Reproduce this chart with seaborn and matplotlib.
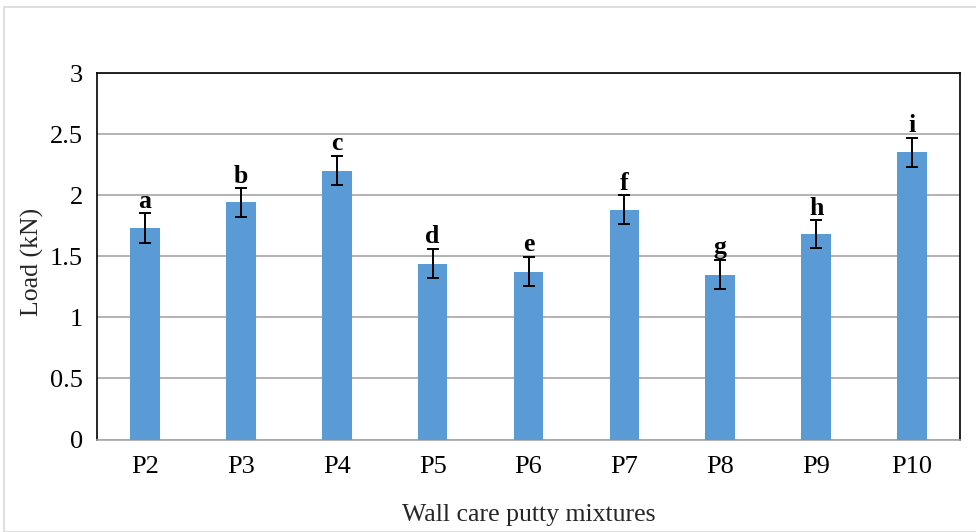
import matplotlib
matplotlib.use("Agg")
import matplotlib.pyplot as plt
import seaborn as sns
import pandas as pd
from matplotlib.patches import Rectangle

categories = ["P2", "P3", "P4", "P5", "P6", "P7", "P8", "P9", "P10"]
loads = [1.73, 1.94, 2.20, 1.44, 1.375, 1.88, 1.35, 1.68, 2.35]
errors = [0.12, 0.115, 0.12, 0.12, 0.12, 0.12, 0.12, 0.115, 0.12]
letters = ["a", "b", "c", "d", "e", "f", "g", "h", "i"]

df = pd.DataFrame({"Mixture": categories, "Load": loads})

sns.set_style("white")
plt.rcParams["font.family"] = ["Liberation Serif", "DejaVu Serif"]

fig = plt.figure(figsize=(9.76, 5.32), dpi=100)
W, H = 976, 532
ax = fig.add_axes([97 / W, 1 - 439.5 / H, (960 - 97) / W, (439.5 - 73) / H])

sns.barplot(data=df, x="Mixture", y="Load", color="#5B9BD5", width=0.31,
            saturation=1, ax=ax, zorder=3)
for p in ax.patches:
    p.set_edgecolor("none")

xs = range(len(categories))
ax.errorbar(list(xs), loads, yerr=errors, fmt="none", ecolor="black",
            elinewidth=1.4, capsize=4, capthick=1.4, zorder=4)
for x, y, e, t in zip(xs, loads, errors, letters):
    ax.text(x, y + e + 0.005, t, ha="center", va="bottom", fontsize=18.5,
            fontweight="bold", color="black", zorder=5)

ax.set_ylim(0, 3)
ax.set_xlim(-0.5, len(categories) - 0.5)
ax.set_yticks([0, 0.5, 1, 1.5, 2, 2.5, 3])
ax.set_yticklabels(["0", "0.5", "1", "1.5", "2", "2.5", "3"])
ax.yaxis.grid(True, color="#A6A6A6", linewidth=1.2, zorder=0)
ax.set_axisbelow(True)
ax.tick_params(axis="both", length=0, labelsize=19, colors="black")
ax.tick_params(axis="x", pad=12)
ax.tick_params(axis="y", pad=10)
for s in ["top", "right", "left"]:
    ax.spines[s].set_visible(True)
    ax.spines[s].set_color("black")
    ax.spines[s].set_linewidth(1.2)
ax.spines["bottom"].set_color("#A6A6A6")
ax.spines["bottom"].set_linewidth(1.2)

ax.set_xlabel("Wall care putty mixtures", fontsize=18.5, va="center")
ax.xaxis.set_label_coords(0.5, (439.5 - 515) / 366.5)
ax.set_ylabel("Load (kN)", fontsize=18.5, va="center")
ax.yaxis.set_label_coords((32 - 97) / 863, (439.5 - 262) / 366.5)

fig.patches.append(Rectangle((4 / W, 0), 1.2, 1 - 7 / H, transform=fig.transFigure,
                             fill=False, edgecolor="#D9D9D9", linewidth=1.2))

fig.savefig("out.png", dpi=100)
